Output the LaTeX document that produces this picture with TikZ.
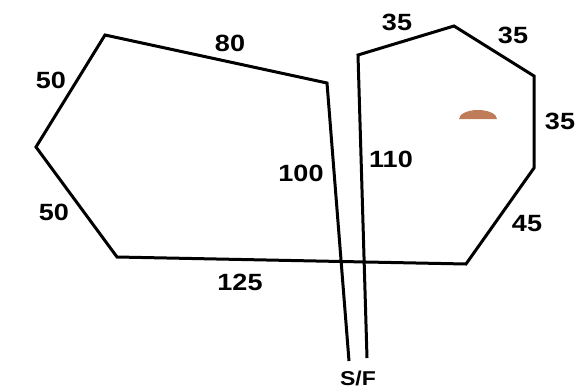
\documentclass[tikz,border=0pt]{standalone}
\usepackage{fontspec}
\usepackage{graphicx}
\setmainfont{Liberation Sans}
\newcommand{\wide}[1]{\scalebox{1.15}[1]{#1}}
\begin{document}
\begin{tikzpicture}[x=1pt,y=-1pt,
  edge/.style={line width=3pt,line join=miter,black},
  lbl/.style={font=\fontsize{23.5}{23.5}\selectfont\bfseries,inner sep=0pt}]
\useasboundingbox (0,0) rectangle (577,388);
% left shape
\coordinate (A) at (105,35);
\coordinate (B) at (327,83);
\coordinate (C) at (349,361);
\coordinate (D) at (36,147);
\coordinate (E) at (117,257);
\coordinate (F) at (466,264);
% right shape
\coordinate (G) at (358,55);
\coordinate (H) at (367,358);
\coordinate (I) at (454,26);
\coordinate (J) at (534,76);
\coordinate (K) at (534,168);
\draw[edge] (C) -- (B) -- (A) -- (D) -- (E) -- (F) -- (K) -- (J) -- (I) -- (G) -- (H);
% brown cap
\fill[fill={rgb,255:red,192;green,124;blue,88}] (459,119) arc[start angle=180,end angle=360,x radius=19,y radius=9] -- cycle;
% labels
\node[lbl] (l80) at (230,43) {\wide{80}};
\node[lbl] (l50a) at (51,80) {\wide{50}};
\node[lbl] (l50b) at (54,212) {\wide{50}};
\node[lbl] (l100) at (301,173) {\wide{100}};
\node[lbl] (l110) at (391,159) {\wide{110}};
\node[lbl] (l125) at (240,282) {\wide{125}};
\node[lbl] (l35a) at (397,22) {\wide{35}};
\node[lbl] (l35b) at (513,35) {\wide{35}};
\node[lbl] (l35c) at (560,121) {\wide{35}};
\node[lbl] (l45) at (527,224) {\wide{45}};
\node[lbl,font=\fontsize{20}{20}\selectfont\bfseries] (sf) at (358,378) {\wide{S/F}};
\end{tikzpicture}
\end{document}
